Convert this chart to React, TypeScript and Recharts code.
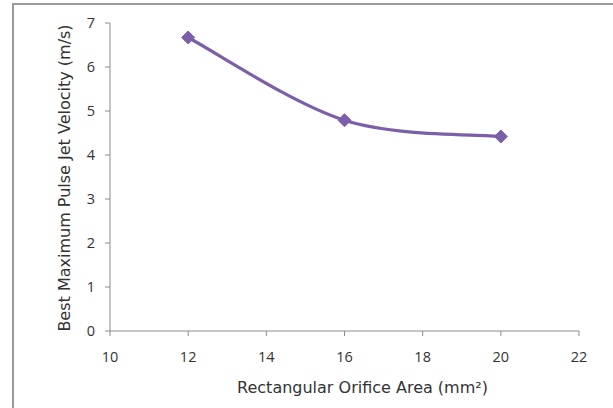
import React from "react";
import { LineChart, Line, XAxis, YAxis, Label } from "recharts";

const orificeAreas = [12, 16, 20];
const bestVelocities = [6.67, 4.79, 4.42];
const xTicks = [10, 12, 14, 16, 18, 20, 22];
const yTicks = [0, 1, 2, 3, 4, 5, 6, 7];

const data = orificeAreas.map((x, i) => ({ area: x, velocity: bestVelocities[i] }));

const LINE_COLOR = "#7B5FA8";
const AXIS_COLOR = "#8c8c8c";
const TEXT_COLOR = "#333333";

// Excel-like smoothed line (Catmull-Rom style cubic Bezier)
function excelCurve(context: any) {
  let pts: number[][] = [];
  return {
    areaStart() {},
    areaEnd() {},
    lineStart() {
      pts = [];
    },
    point(x: number, y: number) {
      pts.push([x, y]);
    },
    lineEnd() {
      if (!pts.length) return;
      context.moveTo(pts[0][0], pts[0][1]);
      for (let i = 0; i < pts.length - 1; i++) {
        const p0 = pts[i - 1] || pts[i];
        const p1 = pts[i];
        const p2 = pts[i + 1];
        const p3 = pts[i + 2] || pts[i + 1];
        const c1x = p1[0] + (p2[0] - p0[0]) / 6;
        const c1y = p1[1] + (p2[1] - p0[1]) / 6;
        const c2x = p2[0] - (p3[0] - p1[0]) / 6;
        const c2y = p2[1] - (p3[1] - p1[1]) / 6;
        context.bezierCurveTo(c1x, c1y, c2x, c2y, p2[0], p2[1]);
      }
    },
  };
}

const Diamond = (props: any) => {
  const { cx, cy } = props;
  if (cx == null || cy == null) return null;
  const r = 6.5;
  return (
    <polygon
      points={`${cx},${cy - r} ${cx + r},${cy} ${cx},${cy + r} ${cx - r},${cy}`}
      fill={LINE_COLOR}
      stroke={LINE_COLOR}
      strokeWidth={1}
    />
  );
};

const titleFont = "'DejaVu Sans', sans-serif";
const tickFont = "'Open Sans', sans-serif";

export default function App() {
  return (
    <div
      style={{
        position: "fixed",
        left: 0,
        top: 0,
        width: 613,
        height: 408,
        overflow: "hidden",
        background: "#fff",
      }}
    >
      <div style={{ position: "absolute", left: 0, top: 0 }}>
        <LineChart
          width={613}
          height={408}
          data={data}
          margin={{ top: 23, right: 34, bottom: 47, left: 0 }}
        >
          <XAxis
            dataKey="area"
            type="number"
            domain={[10, 22]}
            ticks={xTicks}
            stroke={AXIS_COLOR}
            tickSize={5}
            tickMargin={16}
            height={30}
            tick={{ fill: TEXT_COLOR, fontSize: 14.5, fontFamily: tickFont }}
          >
            <Label
              content={(p: any) => {
                const vb = p.viewBox;
                return (
                  <text
                    x={vb.x + vb.width / 2 + 18}
                    y={vb.y + vb.height + 32}
                    textAnchor="middle"
                    fill={TEXT_COLOR}
                    fontSize={16}
                    fontFamily={titleFont}
                  >
                    Rectangular Orifice Area (mm²)
                  </text>
                );
              }}
            />
          </XAxis>
          <YAxis
            type="number"
            domain={[0, 7]}
            ticks={yTicks}
            stroke={AXIS_COLOR}
            tickSize={5}
            tickMargin={10}
            width={110}
            tick={{ fill: TEXT_COLOR, fontSize: 14.5, fontFamily: tickFont }}
          >
            <Label
              content={(p: any) => {
                const vb = p.viewBox;
                const cx = 64;
                const cy = vb.y + vb.height / 2 + 1;
                return (
                  <text
                    x={cx}
                    y={cy}
                    transform={`rotate(-90 ${cx} ${cy})`}
                    textAnchor="middle"
                    dominantBaseline="central"
                    fill={TEXT_COLOR}
                    fontSize={16}
                    fontFamily={titleFont}
                  >
                    Best Maximum Pulse Jet Velocity (m/s)
                  </text>
                );
              }}
            />
          </YAxis>
          <Line
            dataKey="velocity"
            type={excelCurve as any}
            stroke={LINE_COLOR}
            strokeWidth={3.2}
            dot={<Diamond />}
            activeDot={false}
            isAnimationActive={false}
          />
        </LineChart>
      </div>
      <div
        style={{
          position: "absolute",
          left: 12,
          top: 3,
          width: 620,
          height: 420,
          borderLeft: "2px solid #9a9a9a",
          borderTop: "2px solid #9a9a9a",
          pointerEvents: "none",
        }}
      />
    </div>
  );
}
